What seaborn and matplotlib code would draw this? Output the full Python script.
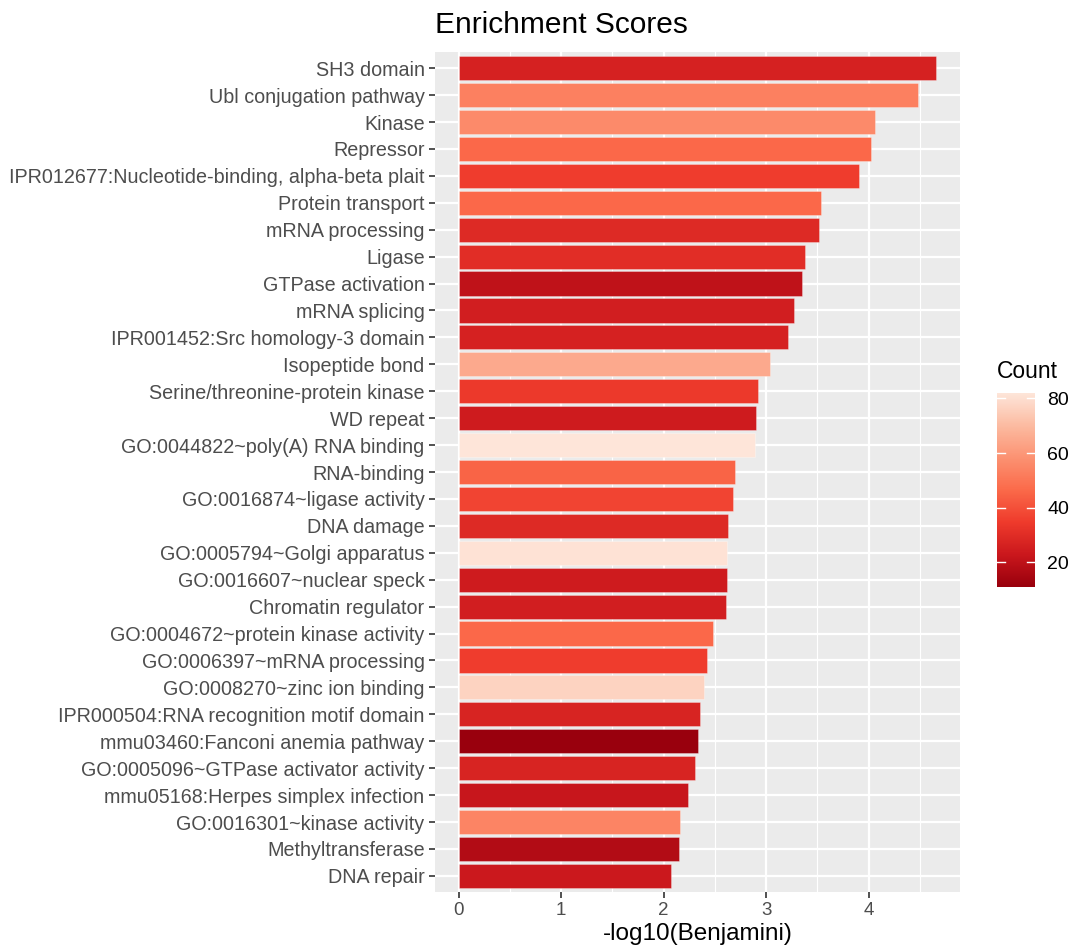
import numpy as np
import pandas as pd
import matplotlib
matplotlib.use("Agg")
import matplotlib.pyplot as plt
from matplotlib.colors import LinearSegmentedColormap, Normalize
import seaborn as sns

# Enriched terms, ordered from highest to lowest score
terms = [
    "SH3 domain",
    "Ubl conjugation pathway",
    "Kinase",
    "Repressor",
    "IPR012677:Nucleotide-binding, alpha-beta plait",
    "Protein transport",
    "mRNA processing",
    "Ligase",
    "GTPase activation",
    "mRNA splicing",
    "IPR001452:Src homology-3 domain",
    "Isopeptide bond",
    "Serine/threonine-protein kinase",
    "WD repeat",
    "GO:0044822~poly(A) RNA binding",
    "RNA-binding",
    "GO:0016874~ligase activity",
    "DNA damage",
    "GO:0005794~Golgi apparatus",
    "GO:0016607~nuclear speck",
    "Chromatin regulator",
    "GO:0004672~protein kinase activity",
    "GO:0006397~mRNA processing",
    "GO:0008270~zinc ion binding",
    "IPR000504:RNA recognition motif domain",
    "mmu03460:Fanconi anemia pathway",
    "GO:0005096~GTPase activator activity",
    "mmu05168:Herpes simplex infection",
    "GO:0016301~kinase activity",
    "Methyltransferase",
    "DNA repair",
]

# -log10(Benjamini) per term
scores = [4.66, 4.48, 4.06, 4.02, 3.91, 3.54, 3.52, 3.38, 3.35, 3.27,
          3.21, 3.04, 2.92, 2.90, 2.89, 2.70, 2.68, 2.63, 2.62, 2.62,
          2.61, 2.48, 2.42, 2.39, 2.35, 2.33, 2.31, 2.24, 2.16, 2.15, 2.07]

# Gene count per term
counts = [26, 53, 56, 46, 35, 46, 29, 30, 20, 25, 26, 65, 34, 24, 82, 45,
          37, 29, 81, 24, 25, 46, 35, 77, 27, 11, 27, 22, 54, 17, 23]

x_ticks = [0, 1, 2, 3, 4]
legend_ticks = [20, 40, 60, 80]

df = pd.DataFrame({"Term": terms, "Score": scores, "Count": counts})

# Brewer "Reds" (7 classes), dark for low counts, light for high counts
reds7 = ["#99000D", "#CB181D", "#EF3B2C", "#FB6A4A", "#FC9272", "#FCBBA1", "#FEE5D9"]
cmap = LinearSegmentedColormap.from_list("reds_rev", reds7, N=256)
norm = Normalize(vmin=min(counts), vmax=max(counts))
palette = {t: cmap(norm(c)) for t, c in zip(terms, counts)}

W, H = 1073, 952
fig = plt.figure(figsize=(W / 100, H / 100), dpi=100)
fig.patch.set_facecolor("white")

FONT = "Liberation Sans"
TEXT_COL = "#4D4D4D"

# main panel in pixel geometry
pl, pr, pt, pb = 435, 960, 52, 892
ax = fig.add_axes([pl / W, 1 - pb / H, (pr - pl) / W, (pb - pt) / H])
ax.set_facecolor("#EBEBEB")

sns.barplot(data=df, x="Score", y="Term", hue="Term", palette=palette,
            order=terms, hue_order=terms, dodge=False, legend=False,
            width=0.9, orient="h", ax=ax, saturation=1,
            edgecolor=(1, 1, 1, 0.35), linewidth=0.6)

xmax = max(scores)
pad = 0.05 * xmax
ax.set_xlim(-pad, xmax + pad)
ax.set_ylim(len(terms) - 1 + 0.6, -0.6)

# grid lines: white major, thinner minor
ax.set_xticks(x_ticks)
ax.set_xticks([0.5, 1.5, 2.5, 3.5, 4.5], minor=True)
ax.grid(True, which="major", axis="both", color="white", linewidth=1.6)
ax.grid(True, which="minor", axis="x", color="white", linewidth=0.8)
ax.set_axisbelow(True)

for s in ax.spines.values():
    s.set_visible(False)

ax.tick_params(axis="both", which="major", length=4, width=1.2, color="#333333",
               labelcolor=TEXT_COL, pad=3.5)
ax.tick_params(axis="y", labelsize=14.2)
ax.tick_params(axis="x", labelsize=13.5, pad=3)
ax.tick_params(axis="x", which="minor", length=0)
for lab in ax.get_yticklabels() + ax.get_xticklabels():
    lab.set_fontfamily(FONT)

ax.set_ylabel("")
ax.set_xlabel("-log10(Benjamini)", fontsize=17.5, fontfamily=FONT, color="black", labelpad=3)

fig.text(pl / W, 1 - 33 / H, "Enrichment Scores", fontsize=21.5, fontfamily=FONT,
         color="black", ha="left", va="baseline")

# colour bar legend
cl, cr, ct, cb = 997, 1035, 393, 587
cax = fig.add_axes([cl / W, 1 - cb / H, (cr - cl) / W, (cb - ct) / H])
grad = np.linspace(min(counts), max(counts), 300).reshape(-1, 1)
cax.imshow(grad, aspect="auto", cmap=cmap, norm=norm, origin="lower",
           extent=[0, 1, min(counts), max(counts)])
cax.set_xlim(0, 1)
cax.set_ylim(min(counts), max(counts))
for v in legend_ticks:
    cax.plot([0, 0.2], [v, v], color="white", lw=1.0)
    cax.plot([0.8, 1], [v, v], color="white", lw=1.0)
cax.set_xticks([])
cax.yaxis.tick_right()
cax.set_yticks(legend_ticks)
cax.tick_params(axis="y", length=0, labelsize=14, labelcolor="black", pad=9)
for lab in cax.get_yticklabels():
    lab.set_fontfamily(FONT)
for s in cax.spines.values():
    s.set_visible(False)

fig.text(cl / W, 1 - 378 / H, "Count", fontsize=16.5, fontfamily=FONT,
         color="black", ha="left", va="baseline")

fig.savefig("out.png", dpi=100, facecolor="white")
